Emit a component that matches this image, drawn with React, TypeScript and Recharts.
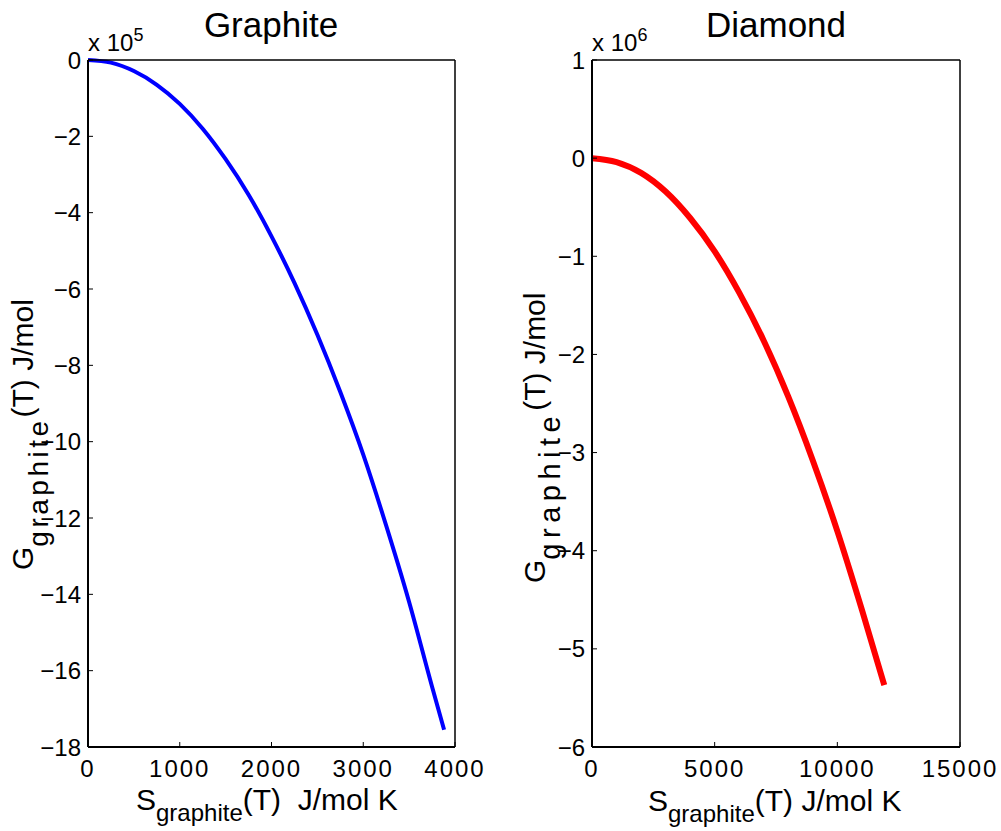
import { Line, LineChart, XAxis, YAxis } from 'recharts';

// Graphite panel: S (J/mol K) vs G (J/mol)
const graphiteS = [0, 250, 500, 750, 1000, 1250, 1500, 1750, 2000, 2250, 2500, 2750, 3000, 3250, 3500, 3750, 3881];
const graphiteG = [0, -7000, -29000, -65000, -115000, -180000, -260000, -353000, -462000, -584000, -720000, -870000, -1034000, -1220000, -1420000, -1642000, -1755000];

// Diamond panel
const diamondS = [0, 1000, 2000, 3000, 4000, 5000, 6000, 7000, 8000, 9000, 10000, 11000, 11913];
const diamondG = [0, -40000, -150000, -340000, -610000, -950000, -1370000, -1860000, -2430000, -3080000, -3800000, -4600000, -5370000];

const graphiteXTicks = [0, 1000, 2000, 3000, 4000];
const graphiteYTicks = [0, -200000, -400000, -600000, -800000, -1000000, -1200000, -1400000, -1600000, -1800000];
const diamondXTicks = [0, 5000, 10000, 15000];
const diamondYTicks = [1000000, 0, -1000000, -2000000, -3000000, -4000000, -5000000, -6000000];

const FONT = '"Liberation Sans", Arial, Helvetica, sans-serif';

const scaled = (scale: number) => (v: number) => {
  const n = Math.round(v / scale);
  return n < 0 ? '\u2212' + Math.abs(n) : String(n);
};

type PanelProps = {
  s: number[];
  g: number[];
  xTicks: number[];
  yTicks: number[];
  yScale: number;
  color: string;
  lineWidth: number;
  width: number;
  left: number;
  marginRight: number;
};

function Panel({ s, g, xTicks, yTicks, yScale, color, lineWidth, width, left, marginRight }: PanelProps) {
  const data = s.map((v, i) => ({ s: v, g: g[i] }));
  const xDomain = [xTicks[0], xTicks[xTicks.length - 1]];
  const yDomain = [yTicks[yTicks.length - 1], yTicks[0]];
  const box = { stroke: '#000', strokeWidth: 1.5 };
  const tl = { stroke: '#000', strokeWidth: 1 };

  return (
    <div style={{ position: 'absolute', left, top: 0 }}>
      <LineChart width={width} height={831} data={data} margin={{ top: 59, right: marginRight, bottom: 54, left: 28 }}>
        <XAxis
          xAxisId="b"
          dataKey="s"
          type="number"
          domain={xDomain}
          ticks={xTicks}
          interval={0}
          height={30}
          tickSize={-5}
          tickMargin={18}
          axisLine={{ stroke: '#000', strokeWidth: 2 }}
          tickLine={tl}
          tick={{ fontSize: 24, fill: '#000', fontFamily: FONT, letterSpacing: 2 }}
        />
        <XAxis
          xAxisId="t"
          dataKey="s"
          orientation="top"
          type="number"
          domain={xDomain}
          ticks={xTicks}
          interval={0}
          height={1}
          tickSize={-5}
          axisLine={box}
          tickLine={tl}
          tick={false}
        />
        <YAxis
          yAxisId="l"
          type="number"
          domain={yDomain}
          ticks={yTicks}
          interval={0}
          width={60}
          tickSize={-5}
          tickMargin={12}
          axisLine={{ stroke: '#000', strokeWidth: 2 }}
          tickLine={tl}
          tickFormatter={scaled(yScale)}
          tick={{ fontSize: 24, fill: '#000', fontFamily: FONT }}
        />
        <YAxis
          yAxisId="r"
          orientation="right"
          type="number"
          domain={yDomain}
          ticks={yTicks}
          interval={0}
          width={1}
          tickSize={-5}
          axisLine={box}
          tickLine={tl}
          tick={false}
        />
        <Line
          xAxisId="b"
          yAxisId="l"
          type="monotone"
          dataKey="g"
          stroke={color}
          strokeWidth={lineWidth}
          dot={false}
          activeDot={false}
          isAnimationActive={false}
        />
      </LineChart>
    </div>
  );
}

export default function App() {
  return (
    <div style={{ position: 'absolute', left: 0, top: 0, width: 1001, height: 831, background: '#fff', fontFamily: FONT }}>
      <Panel
        s={graphiteS}
        g={graphiteG}
        xTicks={graphiteXTicks}
        yTicks={graphiteYTicks}
        yScale={1e5}
        color="#0000ff"
        lineWidth={4}
        width={500}
        left={0}
        marginRight={44}
      />
      <Panel
        s={diamondS}
        g={diamondG}
        xTicks={diamondXTicks}
        yTicks={diamondYTicks}
        yScale={1e6}
        color="#ff0000"
        lineWidth={6}
        width={497}
        left={504}
        marginRight={40}
      />
      <svg width={1001} height={831} style={{ position: 'absolute', left: 0, top: 0, pointerEvents: 'none' }} fontFamily={FONT} fill="#000">
        <text x={271} y={37} textAnchor="middle" fontSize={35}>Graphite</text>
        <text x={776} y={37} textAnchor="middle" fontSize={35}>Diamond</text>

        <text x={88} y={51} fontSize={24}>
          x 10<tspan dy={-10} fontSize={18}>5</tspan>
        </text>
        <text x={592} y={51} fontSize={24}>
          x 10<tspan dy={-10} fontSize={18}>6</tspan>
        </text>

        <text x={136} y={810} fontSize={30} style={{ whiteSpace: 'pre' }}>
          S<tspan dy={11} fontSize={24}>graphite</tspan>
          <tspan dy={-11}>(T)  J/mol K</tspan>
        </text>
        <text x={648} y={811} fontSize={30} style={{ whiteSpace: 'pre' }}>
          S<tspan dy={11} fontSize={24}>graphite</tspan>
          <tspan dy={-11}>(T) J/mol K</tspan>
        </text>

        <text transform="translate(33,570) rotate(-90)" fontSize={30} style={{ whiteSpace: 'pre' }}>
          G<tspan dy={15} fontSize={28} letterSpacing={3.5}>graphite</tspan>
          <tspan dy={-15}>(T) J/mol</tspan>
        </text>
        <text transform="translate(545,583) rotate(-90)" fontSize={30} style={{ whiteSpace: 'pre' }}>
          G<tspan dy={15} fontSize={29} letterSpacing={5.5}>graphite</tspan>
          <tspan dy={-15}>(T) J/mol</tspan>
        </text>
      </svg>
    </div>
  );
}
